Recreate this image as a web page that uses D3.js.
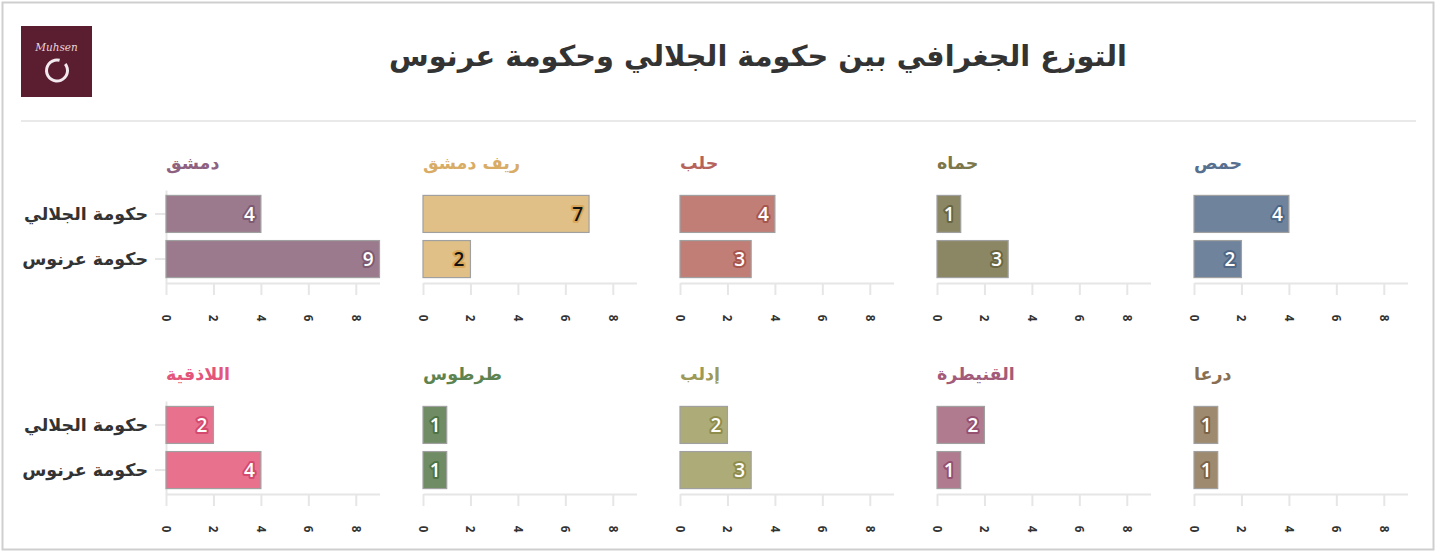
<!DOCTYPE html>
<html>
<head>
<meta charset="utf-8">
<script src="https://cdn.jsdelivr.net/npm/d3@7"></script>
<style>
html,body{margin:0;padding:0;background:#fff;}
svg{display:block;}
</style>
</head>
<body>
<svg id="chart" width="1436" height="553"></svg>
<script>
const chartTitle = "التوزع الجغرافي بين حكومة الجلالي وحكومة عرنوس";
const governments = ["حكومة الجلالي", "حكومة عرنوس"];
const provinces = ["دمشق", "ريف دمشق", "حلب", "حماه", "حمص", "اللاذقية", "طرطوس", "إدلب", "القنيطرة", "درعا"];
const jalaliValues = [4, 7, 4, 1, 4, 2, 1, 2, 2, 1];
const arnousValues = [9, 2, 3, 3, 2, 4, 1, 3, 1, 1];
const xTicks = [0, 2, 4, 6, 8];
const barColors = ["#9b7a8d", "#e1c087", "#c17e76", "#8b8765", "#6f839d", "#e8718e", "#6f8c64", "#adab78", "#b07b8f", "#9e8a6f"];
const titleColors = ["#8e6180", "#d9ac66", "#b6645b", "#7b774a", "#58708f", "#e3557b", "#5d8350", "#9c9a56", "#a35b7a", "#896f50"];
const haloColors = ["#7e5a72", "#d9a85a", "#a8554d", "#6a6540", "#4f6785", "#d44a6e", "#4f7343", "#8f8d4b", "#965070", "#7c6448"];
const labelTextColors = ["#fff", "#111", "#fff", "#fff", "#fff", "#fff", "#fff", "#fff", "#fff", "#fff"];

const svg = d3.select("#chart");
const arabicFont = "'DejaVu Sans', 'Noto Sans', sans-serif";
const numFont = "'Open Sans', 'Noto Sans', sans-serif";

// outer border
svg.append("rect").attr("x", 2.5).attr("y", 2.5).attr("width", 1431).attr("height", 547)
  .attr("fill", "#fff").attr("stroke", "#cfcfcf").attr("stroke-width", 2);

// logo
const logo = svg.append("g");
logo.append("rect").attr("x", 21).attr("y", 26).attr("width", 71).attr("height", 71).attr("fill", "#5b1d30");
logo.append("text").attr("x", 56.5).attr("y", 51).attr("text-anchor", "middle")
  .attr("font-family", "'DejaVu Serif', 'Liberation Serif', serif").attr("font-style", "italic")
  .attr("font-size", 10.5).attr("fill", "#e6d6dc").text("Muhsen");
const arc = d3.arc().innerRadius(9).outerRadius(12).startAngle(0.9).endAngle(2 * Math.PI + 0.25);
logo.append("path").attr("d", arc()).attr("transform", "translate(57,70.5)").attr("fill", "#f2eaee");

// title
svg.append("text").attr("x", 758).attr("y", 66).attr("text-anchor", "middle")
  .attr("font-family", arabicFont).attr("font-weight", "bold").attr("font-size", 28.8)
  .attr("fill", "#333").text(chartTitle);

// separator
svg.append("line").attr("x1", 21).attr("x2", 1416).attr("y1", 121).attr("y2", 121)
  .attr("stroke", "#e2e2e2").attr("stroke-width", 1.5);

const colStep = 257;
const firstX = 166;
const panelWidth = 213.5;
const rowStep = 211;
const rowTop = 190;
const rowBottom = 283;

provinces.forEach((prov, i) => {
  const col = i % 5, row = Math.floor(i / 5);
  const x0 = firstX + col * colStep;
  const dy = row * rowStep;
  const x = d3.scaleLinear().domain([0, 9]).range([x0, x0 + panelWidth]);
  const y = d3.scaleBand().domain(governments).range([rowTop + dy, rowBottom + dy])
    .paddingInner(0.18).paddingOuter(0.12);
  const vals = [jalaliValues[i], arnousValues[i]];
  const g = svg.append("g");

  // panel title
  g.append("text").attr("x", x0).attr("y", 169 + dy)
    .attr("font-family", arabicFont).attr("font-weight", "bold").attr("font-size", 17.5)
    .attr("fill", titleColors[i]).text(prov);

  // x axis
  const xAxis = d3.axisBottom(x).tickValues(xTicks).tickSize(12).tickSizeOuter(0);
  const ax = g.append("g").attr("transform", `translate(0,${rowBottom + dy})`).call(xAxis);
  ax.select(".domain").attr("stroke", "#e6e6e6").attr("stroke-width", 2);
  ax.selectAll(".tick line").attr("stroke", "#e6e6e6").attr("stroke-width", 2);
  ax.selectAll(".tick text")
    .attr("font-family", numFont).attr("font-weight", "bold").attr("font-size", 11.5).attr("fill", "#333")
    .attr("text-anchor", "middle").attr("dy", null).attr("y", null)
    .attr("transform", "translate(0,35) rotate(90)").attr("dominant-baseline", "central");

  // y axis only on first column
  if (col === 0) {
    const yAxis = d3.axisLeft(y).tickSize(11).tickSizeOuter(0);
    const ay = g.append("g").attr("transform", `translate(${x0},0)`).call(yAxis);
    ay.select(".domain").attr("stroke", "#e6e6e6").attr("stroke-width", 2);
    ay.selectAll(".tick line").attr("stroke", "#e6e6e6").attr("stroke-width", 2);
    ay.selectAll(".tick text").attr("x", -18)
      .attr("font-family", arabicFont).attr("font-weight", "bold").attr("font-size", 17.5).attr("fill", "#333");
  }

  // bars
  g.selectAll("rect.bar").data(governments).join("rect").attr("class", "bar")
    .attr("x", x(0)).attr("y", d => y(d))
    .attr("width", (d, k) => x(vals[k]) - x(0)).attr("height", y.bandwidth())
    .attr("fill", barColors[i]).attr("stroke", "#a0a0a0").attr("stroke-width", 1.2);

  // value labels
  g.selectAll("text.val").data(governments).join("text").attr("class", "val")
    .attr("x", (d, k) => x(vals[k]) - 6).attr("y", d => y(d) + y.bandwidth() / 2)
    .attr("text-anchor", "end").attr("dominant-baseline", "central")
    .attr("font-family", numFont).attr("font-weight", 600).attr("font-size", 19)
    .attr("fill", labelTextColors[i]).attr("stroke", haloColors[i]).attr("stroke-width", 4)
    .attr("stroke-linejoin", "round").attr("paint-order", "stroke")
    .text((d, k) => vals[k]);
});
</script>
</body>
</html>
